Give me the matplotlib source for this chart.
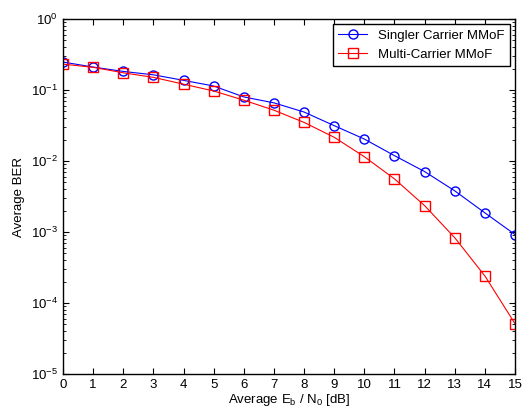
import matplotlib
matplotlib.use('Agg')
import matplotlib.pyplot as plt

# Eb/N0 en dB
snr_db = list(range(16))
# BER
ber_single = [0.248, 0.211, 0.183, 0.164, 0.137, 0.114, 0.080, 0.066, 0.049,
              0.0315, 0.0204, 0.0119, 0.0071, 0.0038, 0.00186, 0.00092]
ber_multi = [0.232, 0.209, 0.175, 0.151, 0.121, 0.097, 0.072, 0.052, 0.035,
             0.0216, 0.0115, 0.0056, 0.00235, 0.00083, 0.00024, 0.000051]

plt.rcParams['font.family'] = ['Liberation Sans', 'DejaVu Sans']

fig = plt.figure(figsize=(5.25, 4.15), dpi=100)
ax = fig.add_axes([0.12, 0.099, 0.861, 0.855])

ax.semilogy(snr_db, ber_single, color='blue', marker='o', markersize=6.5,
            markerfacecolor='none', linewidth=0.8, label='Singler Carrier MMoF')
ax.semilogy(snr_db, ber_multi, color='red', marker='s', markersize=6.5,
            markerfacecolor='none', linewidth=0.8, label='Multi-Carrier MMoF')

ax.set_xlim(0, 15)
ax.set_ylim(1e-5, 1)
ax.set_xticks(snr_db)
ax.tick_params(which='both', direction='in', top=True, right=True, labelsize=9.5)
ax.tick_params(which='major', length=4.5)
ax.tick_params(which='minor', length=2.5)
for s in ax.spines.values():
    s.set_linewidth(1.0)

ax.set_xlabel('Average E$_\\mathregular{b}$ / N$_\\mathregular{0}$ [dB]', fontsize=9.5, labelpad=1)
ax.set_ylabel('Average BER', fontsize=9.5, labelpad=4)

leg = ax.legend(loc='upper right', fontsize=9.5, fancybox=False, framealpha=1,
                edgecolor='black', borderaxespad=0.4, handlelength=2.2)
leg.get_frame().set_linewidth(1.0)

fig.savefig('out.png', dpi=100)
